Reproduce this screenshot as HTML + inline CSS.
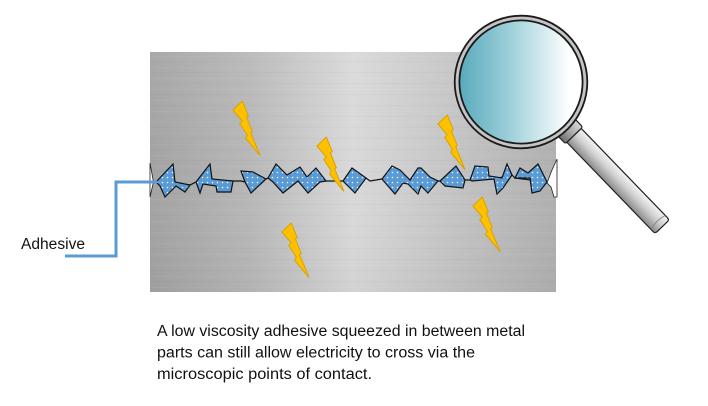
<!DOCTYPE html>
<html>
<head>
<meta charset="utf-8">
<style>
  html,body{margin:0;padding:0;background:#fff;}
  body{width:708px;height:406px;overflow:hidden;}
  svg{display:block;}
  text{font-family:"Liberation Sans",Arial,sans-serif;fill:#111;}
</style>
</head>
<body>
<svg width="708" height="406" viewBox="0 0 708 406" xmlns="http://www.w3.org/2000/svg">
  <defs>
    <linearGradient id="metal" x1="150" y1="0" x2="556" y2="0" gradientUnits="userSpaceOnUse">
      <stop offset="0" stop-color="#a3a3a3"/>
      <stop offset="0.25" stop-color="#b8b8b8"/>
      <stop offset="0.5" stop-color="#d9d9d9"/>
      <stop offset="0.75" stop-color="#c4c4c4"/>
      <stop offset="1" stop-color="#b0b0b0"/>
    </linearGradient>
    <linearGradient id="metalV" x1="0" y1="52" x2="0" y2="292" gradientUnits="userSpaceOnUse">
      <stop offset="0" stop-color="#ffffff" stop-opacity="0.06"/>
      <stop offset="0.5" stop-color="#ffffff" stop-opacity="0"/>
      <stop offset="1" stop-color="#000000" stop-opacity="0.03"/>
    </linearGradient>
    <pattern id="brush" x="0" y="0" width="406" height="11" patternUnits="userSpaceOnUse">
      <rect x="0" y="1" width="406" height="1" fill="#ffffff" opacity="0.05"/>
      <rect x="0" y="6" width="406" height="1" fill="#000000" opacity="0.025"/>
    </pattern>
    <pattern id="dots" x="0" y="0" width="5" height="5" patternUnits="userSpaceOnUse">
      <rect width="5" height="5" fill="#5b9bd5"/>
      <circle cx="2.5" cy="2.5" r="0.75" fill="#ffffff"/>
    </pattern>
    <linearGradient id="lens" x1="460" y1="0" x2="582" y2="0" gradientUnits="userSpaceOnUse">
      <stop offset="0" stop-color="#5aabbd"/>
      <stop offset="0.35" stop-color="#93cad5"/>
      <stop offset="0.65" stop-color="#cde7ec"/>
      <stop offset="0.9" stop-color="#ffffff"/>
      <stop offset="1" stop-color="#ffffff"/>
    </linearGradient>
    <linearGradient id="handle" x1="0" y1="-10" x2="0" y2="10" gradientUnits="userSpaceOnUse">
      <stop offset="0" stop-color="#f4f4f4"/>
      <stop offset="0.45" stop-color="#d0d0d0"/>
      <stop offset="1" stop-color="#8a8a8a"/>
    </linearGradient>
    <linearGradient id="collar" x1="0" y1="-12" x2="0" y2="12" gradientUnits="userSpaceOnUse">
      <stop offset="0" stop-color="#d8d8d8"/>
      <stop offset="0.5" stop-color="#a8a8a8"/>
      <stop offset="1" stop-color="#6e6e6e"/>
    </linearGradient>
    <g id="bolt">
      <polygon points="0,9 9.3,0 15.3,14.7 13.3,15.7 19.3,30.7 17.6,31.7 27,54.5 12.7,37.3 14.3,34 6.7,22.3 9.3,20" fill="#ffc000" stroke="#d9a300" stroke-width="1" stroke-linejoin="miter"/>
    </g>
  </defs>

  <!-- metal plate -->
  <rect x="150" y="52" width="406" height="240" fill="url(#metal)"/>
  <rect x="150" y="52" width="406" height="240" fill="url(#brush)"/>
  <rect x="150" y="52" width="406" height="240" fill="url(#metalV)"/>

  <!-- left crack sliver -->
  <polygon points="150,163 153.5,182 150,197" fill="#ffffff" stroke="#222" stroke-width="0.8"/>
  <!-- right crack gap -->
  <polygon points="547,183 552,170 557,159 557,197 554,197 551,187" fill="#ffffff" stroke="#222" stroke-width="0.8"/>

  <!-- crack baseline -->
  <polyline points="153,182 160,184 175,183 190,185 196,182 212,180 233,181 241,181 245,182 266,179 268,178 325,181 343,181 366,178 370,181 382,179 438,181 440,181 465,180 470,180 494,179 512,175 515,178 547,182" fill="none" stroke="#111" stroke-width="1.2"/>

  <!-- adhesive polygons -->
  <g fill="url(#dots)" stroke="#111" stroke-width="1.2" stroke-linejoin="miter">
    <polygon points="156,182 173,164 175,182 190,185 185,192 176,186 165,197 160,186"/>
    <polygon points="196,182 210,164 212,179 233,181 231,192 217,192 216,186 203,184 200,193"/>
    <polygon points="241,171 253,172 266,179 251,193 245,182"/>
    <polygon points="268,178 276,164 287,175 300,167 307,177 316,168 326,181 320,182 308,193 298,181 283,193 273,182"/>
    <polygon points="343,181 352,168 366,178 355,193"/>
    <polygon points="382,179 392,166 400,170 410,180 418,168 421,168 430,177 438,181 428,193 421,186 418,194 408,184 403,183 395,194 388,186"/>
    <polygon points="440,181 456,166 465,180 463,188 445,186"/>
    <polygon points="470,180 475,166 488,167 489,176 502,178 507,164 512,175 503,188 497,194 494,179 472,181"/>
    <polygon points="515,178 520,168 528,173 538,164 547,182 540,191 532,193 530,178"/>
  </g>

  <!-- lightning bolts -->
  <use href="#bolt" transform="translate(233,101)"/>
  <use href="#bolt" transform="translate(317,137)"/>
  <use href="#bolt" transform="translate(438,115)"/>
  <use href="#bolt" transform="translate(473,197)"/>
  <use href="#bolt" transform="translate(282,223)"/>

  <!-- adhesive leader line -->
  <polyline points="65,256 116,256 116,182 157,182" fill="none" stroke="#5b9bd5" stroke-width="3"/>
  <text x="21" y="249" font-size="15.5" textLength="64" lengthAdjust="spacingAndGlyphs">Adhesive</text>

  <!-- magnifying glass handle -->
  <g transform="translate(565,126) rotate(46)">
    <path d="M13,-10 L137,-10 Q140,-10 140,-7 L140,7 Q140,10 137,10 L13,10 Z" fill="url(#handle)" stroke="#222" stroke-width="1.2"/>
    <path d="M134,-10 Q131,0 134,10" fill="none" stroke="#777" stroke-width="0.8"/>
    <rect x="0" y="-12" width="13" height="24" rx="2" fill="url(#collar)" stroke="#222" stroke-width="1.2"/>
  </g>

  <!-- lens -->
  <circle cx="521" cy="82" r="61.5" fill="url(#lens)"/>
  <circle cx="521" cy="82" r="64" fill="none" stroke="#c4c4c4" stroke-width="4.5"/>
  <circle cx="521" cy="82" r="66.3" fill="none" stroke="#1a1a1a" stroke-width="1.8"/>
  <circle cx="521" cy="82" r="61.6" fill="none" stroke="#1a1a1a" stroke-width="1.8"/>

  <!-- caption -->
  <text x="157" y="336" font-size="15.5" textLength="368" lengthAdjust="spacingAndGlyphs">A low viscosity adhesive squeezed in between metal</text>
  <text x="157" y="357.5" font-size="15.5" textLength="318" lengthAdjust="spacingAndGlyphs">parts can still allow electricity to cross via the</text>
  <text x="157" y="379" font-size="15.5" textLength="215" lengthAdjust="spacingAndGlyphs">microscopic points of contact.</text>
</svg>
</body>
</html>
